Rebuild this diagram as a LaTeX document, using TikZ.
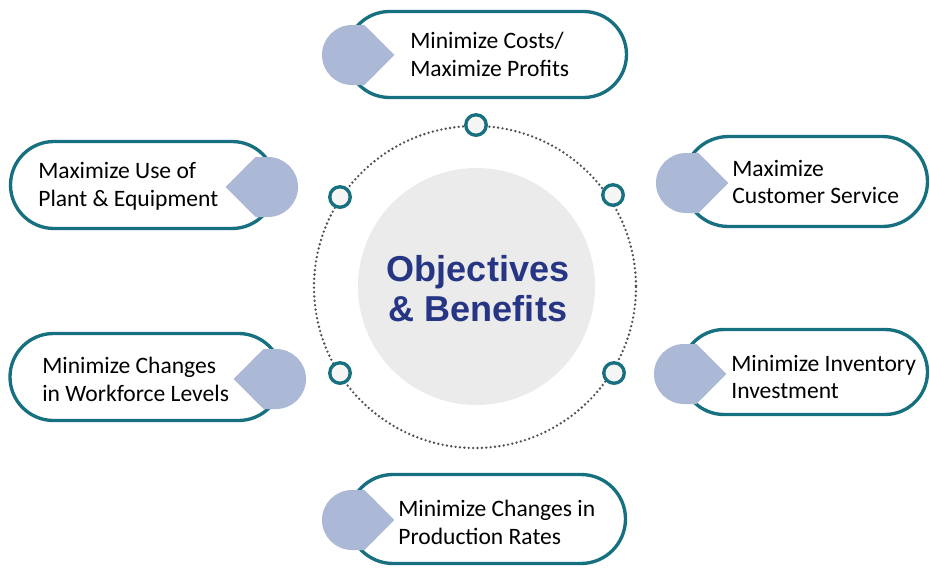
\documentclass[tikz,border=0pt]{standalone}
\usepackage{fontspec}
\setmainfont{Carlito}
\newfontfamily\titlefont{Liberation Sans}
\usetikzlibrary{shapes.misc}

\definecolor{pillline}{HTML}{17707F}
\definecolor{dropfill}{HTML}{ABB8D6}
\definecolor{corefill}{HTML}{EBEBEB}
\definecolor{ringfill}{HTML}{F5F5F5}
\definecolor{titleblue}{HTML}{263584}
\definecolor{dotgray}{HTML}{505050}

\tikzset{
  drop/.pic={
    \fill[dropfill] (0,0) circle (30);
    \fill[dropfill] (0,-30) -- (12.4,-30) -- (42.4,0) -- (12.4,30) -- (0,30) -- cycle;
  }
}

\begin{document}
\begin{tikzpicture}[x=0.2mm,y=-0.2mm,
  pill node/.style={rounded rectangle,draw=pillline,line width=1.9pt,fill=white,inner sep=0pt},
  ring node/.style={circle,draw=pillline,line width=1.9pt,fill=ringfill,minimum size=4.1mm,inner sep=0pt},
  label node/.style={anchor=west,align=left,inner sep=0pt,font=\fontsize{13.4}{15.9}\selectfont}]

  \useasboundingbox (0,0) rectangle (930,569);

  % outer dotted ring and centre
  \draw[dotgray,line width=1.5pt,line cap=round,dash pattern=on 0pt off 2.5pt] (475,287) circle (161);
  \node[circle,fill=corefill,minimum size=47.4mm,inner sep=0pt] (core) at (476.5,286.5) {};
  \node[align=center,text=titleblue,font=\titlefont\bfseries\fontsize{20.5}{22.7}\selectfont] (title) at (478,289) {Objectives\\\& Benefits};

  \node[ring node] (rtop) at (476,125) {};
  \node[ring node] (rul) at (340,197) {};
  \node[ring node] (rur) at (613,195) {};
  \node[ring node] (rll) at (340,373) {};
  \node[ring node] (rlr) at (614,373) {};

  % pills
  \node[pill node,minimum width=56mm,minimum height=17.2mm] (costs) at (486.5,54.5) {};
  \node[pill node,minimum width=48.8mm,minimum height=18mm] (service) at (805.5,181.5) {};
  \node[pill node,minimum width=49.2mm,minimum height=17mm] (inventory) at (804.5,372) {};
  \node[pill node,minimum width=55.4mm,minimum height=17.8mm] (production) at (487,519) {};
  \node[pill node,minimum width=53mm,minimum height=17.4mm] (plant) at (143,185) {};
  \node[pill node,minimum width=54.4mm,minimum height=17.4mm] (workforce) at (146,377) {};

  \pic at (352,55) {drop};
  \pic at (686,183) {drop};
  \pic at (684,374) {drop};
  \pic at (352,520) {drop};
  \pic[rotate=180] at (268,187) {drop};
  \pic[rotate=180] at (276,379) {drop};

  \node[label node] (tcosts) at (410,54.5) {Minimize Costs/\\Maximize Profits};
  \node[label node] (tservice) at (732,182) {Maximize\\Customer Service};
  \node[label node] (tinventory) at (731,377) {Minimize Inventory\\Investment};
  \node[label node] (tproduction) at (398,522) {Minimize Changes in\\Production Rates};
  \node[label node] (tplant) at (38,186) {Maximize Use of\\Plant \& Equipment};
  \node[label node] (tworkforce) at (42,379) {Minimize Changes\\in Workforce Levels};
\end{tikzpicture}
\end{document}
